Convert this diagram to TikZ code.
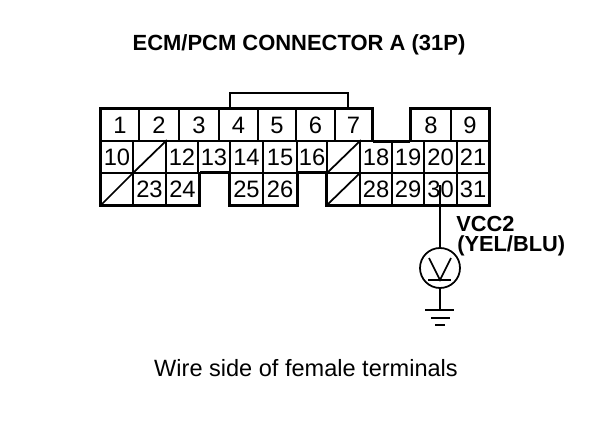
\documentclass[tikz,border=0pt]{standalone}
\usepackage{fontspec}
\setmainfont{Liberation Sans}
\usetikzlibrary{calc}
\newcommand{\pinsize}{\fontsize{13.5}{16}\selectfont}
\tikzset{
  pin/.style={draw, line width=1pt, inner sep=0pt, minimum height=32*.02cm, font=\pinsize},
  rim/.style={line width=1.6pt, line join=miter},
  wire/.style={line width=1pt}
}

\begin{document}
\begin{tikzpicture}[x=.02cm,y=-.02cm]
        \useasboundingbox (0,0) rectangle (608,426);
        % top row
        \foreach \n/\xa/\xb in {1/101/139,2/139/179,3/179/219,4/219/258,5/258/296,6/296/335,7/335/372,8/411/451,9/451/489}
          \node (p\n) at ({(\xa+\xb)/2},125) [pin, minimum width={(\xb-\xa)*.02cm}] {\n};
        % middle row
        \foreach \n/\xa/\xb in {10/101/133,12/166/198,13/198/230,14/230/263,15/263/297,16/297/327,18/360/392,19/392/424,20/424/457,21/457/489}
          \node (p\n) at ({(\xa+\xb)/2},157) [pin, minimum width={(\xb-\xa)*.02cm}] {\n};
        % bottom row
        \foreach \n/\xa/\xb in {23/133/166,24/166/199,25/230/263,26/263/297,28/360/392,29/392/424,30/424/457,31/457/489}
          \node (p\n) at ({(\xa+\xb)/2},189) [pin, minimum width={(\xb-\xa)*.02cm}] {\n};
        % empty cavities
        \foreach \name/\xa/\xb/\y in {e11/133/166/157,e22/101/133/189,e17/327/360/157,e27/327/360/189}{
          \node (\name) at ({(\xa+\xb)/2},\y) [pin, minimum width={(\xb-\xa)*.02cm}] {};
          \draw[wire] (\name.south west) to (\name.north east);
        }
        % outline
        \draw[rim] (p1.south west) to (p1.north west) to (p7.north east) to (p7.south east);
        \draw[rim] (p8.south west) to (p8.north west) to (p9.north east) to (p31.south east)
          to (e27.south west) to (e27.north west);
        \draw[rim] (p1.south west) to (e22.south west) to (p24.south east) to (p24.north east);
        \draw[rim] (p25.north west) to (p25.south west) to (p26.south east) to (p26.north east);
        \draw[rim] (p24.north east) to (p25.north west);
        \draw[rim] (p26.north east) to (e27.north west);
        \draw[rim] (p7.south east) to (p8.south west);
        % bracket over the top row
        \coordinate (brl) at (230,93);
        \coordinate (brr) at (348,93);
        \draw[rim] (brl |- p4.north) to (brl) to (brr) to (brr |- p7.north);
        % meter
        \coordinate (tap) at (440,185);
        \coordinate (gnd) at (440,310);
        \node (meter) at (440,268) [draw, circle, line width=1pt, inner sep=0pt, minimum size=40*.02cm] {};
        \coordinate (vl) at (429,258);
        \coordinate (vr) at (451,258);
        \coordinate (vb) at (440,280);
        \coordinate (bl) at (428,280);
        \coordinate (br) at (451,280);
        \draw[wire] (tap) to (meter);
        \draw[wire] (meter) to (gnd);
        \draw[wire] (vl) to (vb) to (vr);
        \draw[line width=1.3pt] (bl) to (br);
        % ground
        \coordinate (g1l) at (425,310);
        \coordinate (g1r) at (454,310);
        \coordinate (g2l) at (431,318);
        \coordinate (g2r) at (450,318);
        \coordinate (g3l) at (435,325);
        \coordinate (g3r) at (445,325);
        \draw[wire] (g1l) to (g1r);
        \draw[wire] (g2l) to (g2r);
        \draw[wire] (g3l) to (g3r);
        % labels
        \node (title) at (299,45) [font=\fontsize{12.5}{14}\selectfont\bfseries] {ECM/PCM CONNECTOR A (31P)};
        \node (sig) at (456,224) [anchor=west, inner sep=0pt, font=\fontsize{12.4}{14}\selectfont\bfseries] {VCC2};
        \node (col) at (457,246) [anchor=west, inner sep=0pt, font=\fontsize{12.4}{14}\selectfont\bfseries] {(YEL/BLU)};
        \node (foot) at (306,368) [font=\fontsize{13.4}{15}\selectfont] {Wire side of female terminals};
\end{tikzpicture}
\end{document}
